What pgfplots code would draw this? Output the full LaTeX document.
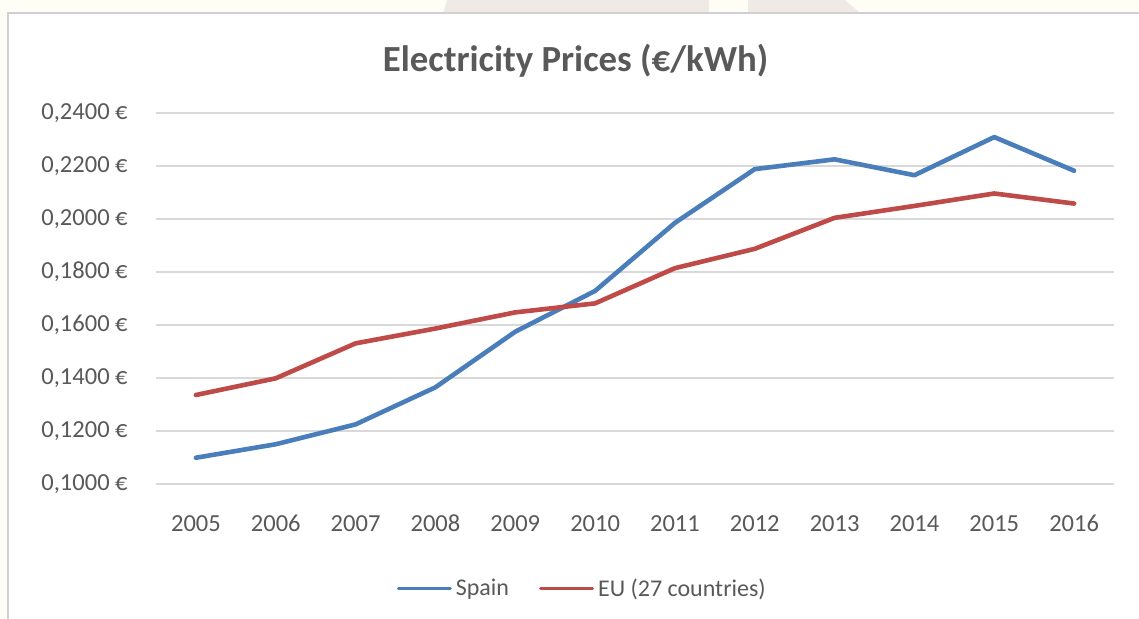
\documentclass[border=0pt]{standalone}
\usepackage{pgfplots}
\pgfplotsset{compat=1.18}
\usepackage{fontspec}
\setmainfont{Carlito}
\definecolor{txt}{HTML}{595959}
\definecolor{spain}{HTML}{4A7EBB}
\definecolor{eu}{HTML}{BE4B48}
\definecolor{gridc}{HTML}{D9D9D9}
\definecolor{cream}{HTML}{FEFEF7}
\definecolor{wmark}{HTML}{EFEAE6}
\definecolor{framec}{HTML}{D0D0D0}
\begin{document}
\begin{tikzpicture}
\useasboundingbox (0,0) rectangle (569.5pt,-309.5pt);
\fill[cream] (0,0) rectangle (569.5pt,-309.5pt);
\fill[wmark] (223.5pt,0) -- (221.5pt,-7pt) -- (354.5pt,-7pt) -- (354.5pt,0) -- cycle;
\fill[wmark] (374pt,0) -- (374pt,-7pt) -- (430.5pt,-7pt) -- (422.5pt,0) -- cycle;
\fill[white] (4pt,-6.75pt) rectangle (569.5pt,-309.5pt);
\draw[framec, line width=1pt] (4pt,-309.5pt) -- (4pt,-6.75pt) -- (569.5pt,-6.75pt);
\node[txt, font=\fontsize{18.4}{22}\selectfont\bfseries] at (287.8pt,-30.5pt) {Electricity Prices (€/kWh)};
\begin{axis}[
  at={(78pt,-241.85pt)}, anchor=south west,
  scale only axis, width=479pt, height=185.35pt,
  xmin=2004.5, xmax=2016.5, ymin=0.10, ymax=0.24,
  axis line style={draw=none}, major tick style={draw=none},
  ymajorgrids, grid style={gridc, line width=0.8pt},
  xtick={2005,2006,2007,2008,2009,2010,2011,2012,2013,2014,2015,2016},
  xticklabels={2005,2006,2007,2008,2009,2010,2011,2012,2013,2014,2015,2016},
  ytick={0.10,0.12,0.14,0.16,0.18,0.20,0.22,0.24},
  yticklabels={{0,1000 €},{0,1200 €},{0,1400 €},{0,1600 €},{0,1800 €},{0,2000 €},{0,2200 €},{0,2400 €}},
  ticklabel style={font=\fontsize{12.25}{14}\selectfont, text=txt, inner sep=0pt},
  yticklabel style={anchor=east, xshift=-14pt},
  xticklabel style={anchor=north, yshift=-15.5pt},
  legend style={at={(0.446,-0.284)}, anchor=center, draw=none, fill=none,
    font=\fontsize{12}{14}\selectfont, text=txt,
    /tikz/every even column/.append style={column sep=13pt}},
  legend columns=2,
  legend image code/.code={\draw[#1, line width=1.5pt] (0pt,0pt) -- (26pt,0pt);},
]
\addplot[spain, line width=2.3pt, line join=round, line cap=round] coordinates {
(2005,0.1098) (2006,0.1149) (2007,0.1224) (2008,0.1364) (2009,0.1574) (2010,0.1728)
(2011,0.1985) (2012,0.2188) (2013,0.2225) (2014,0.2165) (2015,0.2309) (2016,0.2182)};
\addlegendentry{Spain}
\addplot[eu, line width=2.3pt, line join=round, line cap=round] coordinates {
(2005,0.1335) (2006,0.1398) (2007,0.1530) (2008,0.1586) (2009,0.1647) (2010,0.1681)
(2011,0.1814) (2012,0.1887) (2013,0.2004) (2014,0.2049) (2015,0.2096) (2016,0.2058)};
\addlegendentry{EU (27 countries)}
\end{axis}
\end{tikzpicture}
\end{document}
